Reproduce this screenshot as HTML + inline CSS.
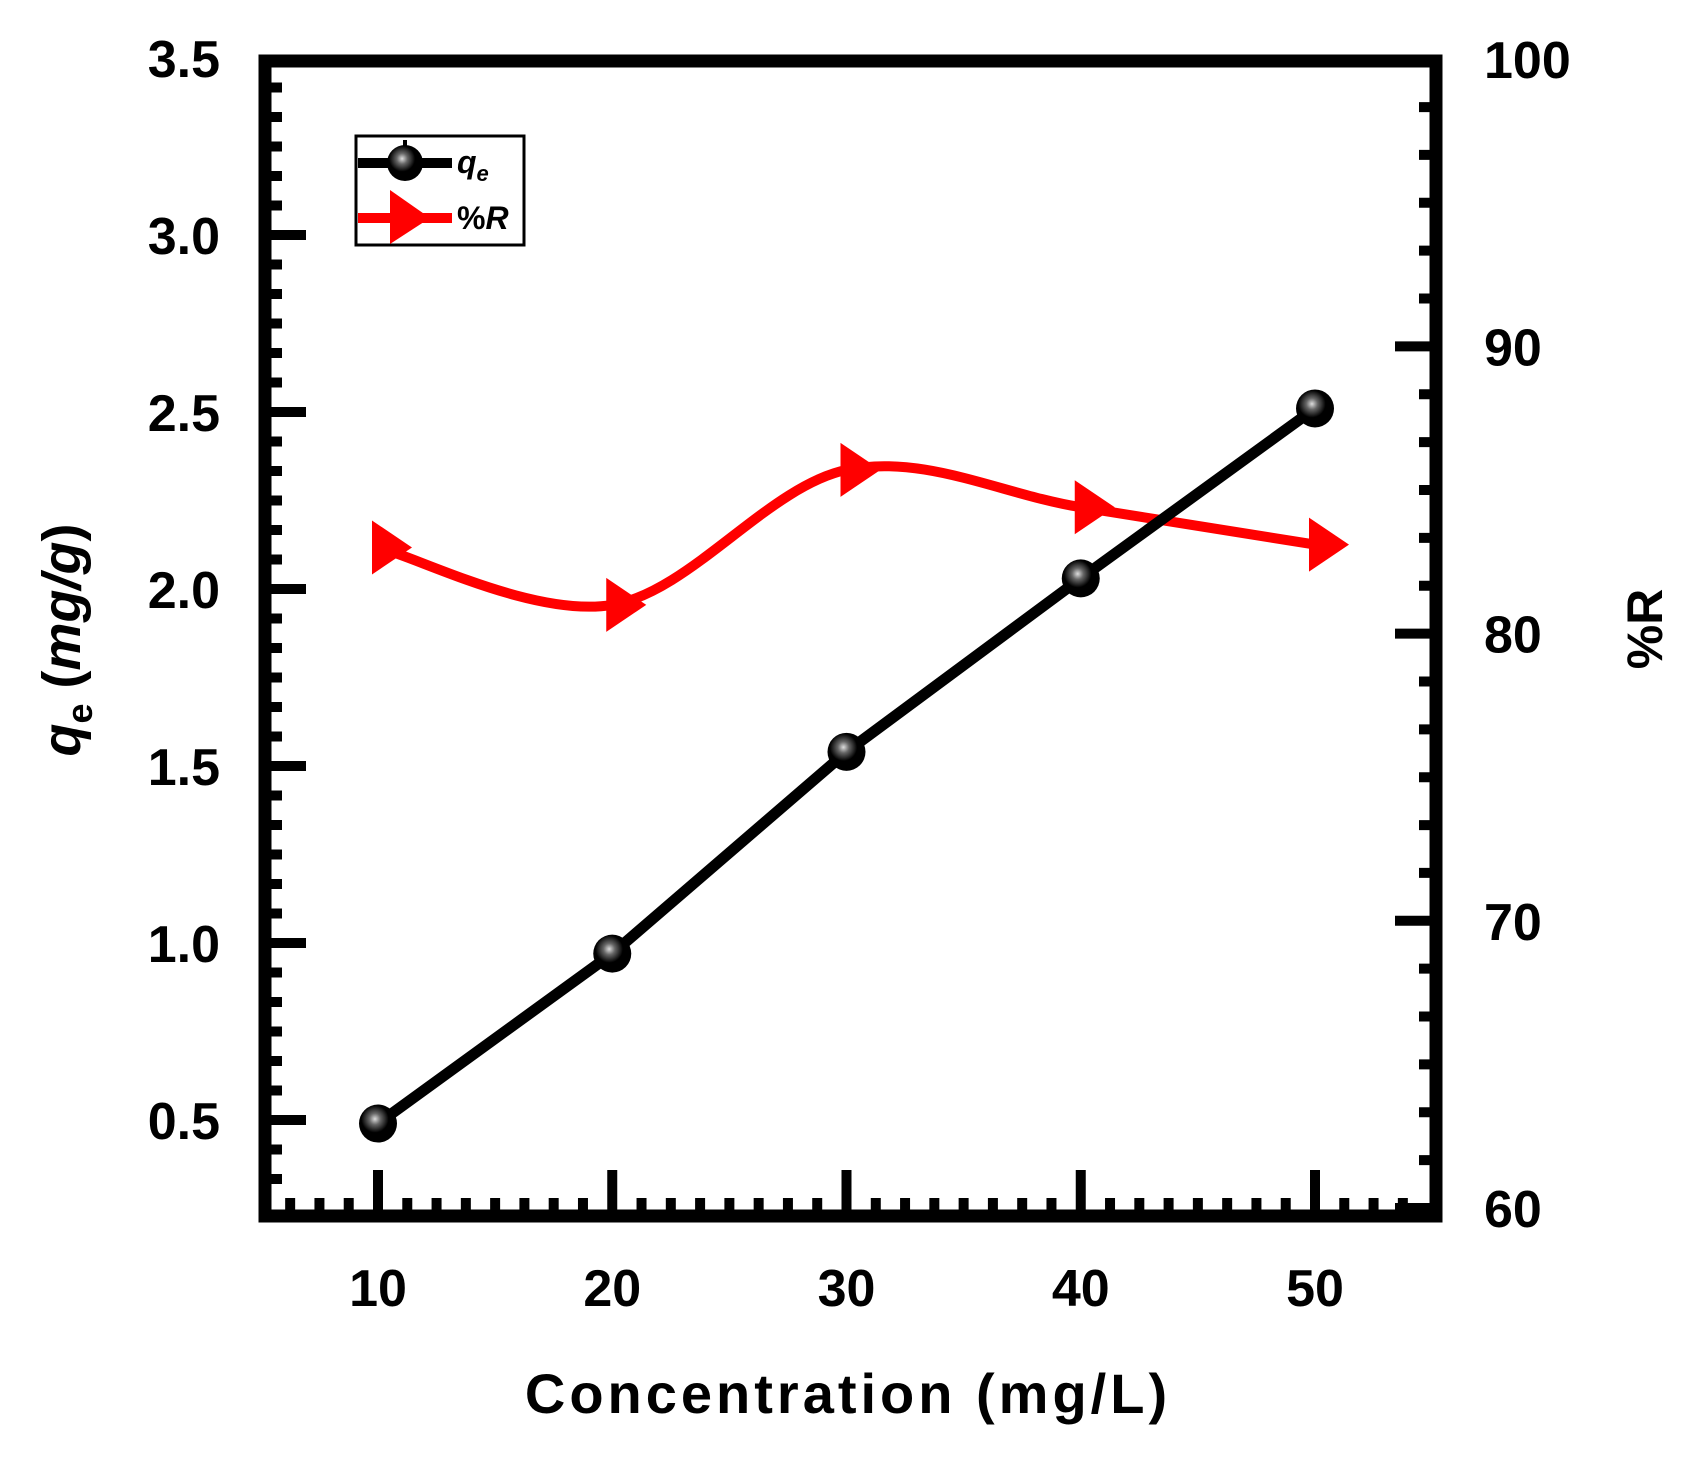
<!DOCTYPE html>
<html><head><meta charset="utf-8"><style>
html,body{margin:0;padding:0;background:#fff;}
svg{display:block;font-family:"Liberation Sans",Arial,sans-serif;}
</style></head><body>
<svg id="chart" width="1691" height="1470" viewBox="0 0 1691 1470">
<defs>
<radialGradient id="ball" cx="0.42" cy="0.38" r="0.6">
<stop offset="0" stop-color="#ddd"/><stop offset="0.25" stop-color="#666"/><stop offset="0.6" stop-color="#000"/><stop offset="1" stop-color="#000"/>
</radialGradient>
</defs>
<g id="ticks"></g>
<g id="series"></g>
<rect x="265" y="61" width="1171" height="1155" fill="none" stroke="#000" stroke-width="13"/>
<g id="labels" font-weight="bold" font-size="52" fill="#000"></g>
<text x="848" y="1413" font-size="56" font-weight="bold" text-anchor="middle" letter-spacing="4">Concentration (mg/L)</text>
<text transform="translate(80,640) rotate(-90)" font-size="54" font-weight="bold" text-anchor="middle"><tspan font-style="italic">q</tspan><tspan font-size="36" dy="12">e</tspan><tspan dy="-12"> (</tspan><tspan font-style="italic">mg/g</tspan>)</text>
<text transform="translate(1662,629) rotate(-90)" font-size="50" font-weight="bold" text-anchor="middle">%R</text>
<g>
<rect x="356" y="136" width="168" height="109" fill="#fff" stroke="#000" stroke-width="3"/>
<line x1="358" y1="163" x2="452" y2="163" stroke="#000" stroke-width="10"/>
<line x1="405" y1="140" x2="405" y2="150" stroke="#000" stroke-width="4"/>
<circle cx="405" cy="163" r="18" fill="url(#ball)"/>
<text x="457" y="173" font-size="32" font-weight="bold" font-style="italic" fill="#000">q<tspan font-size="22" dy="8">e</tspan></text>
<line x1="358" y1="218" x2="452" y2="218" stroke="#f00" stroke-width="10"/>
<polygon points="390,190 390,244 430,218" fill="#f00"/>
<text x="457" y="229" font-size="32" font-weight="bold" fill="#000">%<tspan font-style="italic">R</tspan></text>
</g>
</svg>
<script>
const categories=[10,20,30,40,50];
const qeValues=[0.49,0.97,1.54,2.03,2.51];
const removalValues=[83.0,81.0,85.7,84.4,83.1];
const xTicks=[10,20,30,40,50];
const yLeftTicks=["0.5","1.0","1.5","2.0","2.5","3.0","3.5"];
const yRightTicks=["60","70","80","90","100"];

const NS="http://www.w3.org/2000/svg";
function X(v){return 378+(v-10)*23.425;}
function YL(v){return 1120-(v-0.5)*354;}
function YR(v){return 1208-(v-60)*28.72;}
function mk(tag,attrs,parent){const e=document.createElementNS(NS,tag);for(const k in attrs)e.setAttribute(k,attrs[k]);parent.appendChild(e);return e;}
const tk=document.getElementById('ticks'),lb=document.getElementById('labels'),sr=document.getElementById('series');
for(let v=5;v<=55.01;v+=1.25){const x=X(v);if(x<275||x>1428)continue;const major=Math.abs(v-Math.round(v/10)*10)<0.01&&xTicks.includes(Math.round(v));
const t=mk('line',{x1:x,y1:1216,x2:x,y2:major?1170:1198,stroke:'#000','stroke-width':10},tk);

}
xTicks.forEach(v=>{const t=mk('text',{x:X(v),y:1306,'text-anchor':'middle'},lb);t.textContent=v;

});
for(let v=0.5-4/12;v<=3.5;v+=0.5/6){const y=YL(v);if(y<70||y>1208)continue;const major=Math.abs(v*2-Math.round(v*2))<0.01;
const t=mk('line',{x1:265,y1:y,x2:major?306:282,y2:y,stroke:'#000','stroke-width':10},tk);

}
yLeftTicks.forEach(s=>{const t=mk('text',{x:220,y:YL(+s)+19,'text-anchor':'end'},lb);t.textContent=s;

});
for(let v=60;v<=100;v+=10/6){const y=YR(v);if(y<70||y>1208)continue;const major=Math.abs(v/10-Math.round(v/10))<0.01;
const t=mk('line',{x1:1436,y1:y,x2:major?1395:1419,y2:y,stroke:'#000','stroke-width':10},tk);

}
yRightTicks.forEach(s=>{const t=mk('text',{x:1484,y:YR(+s)+19,'text-anchor':'start'},lb);t.textContent=s;

});
const rp=categories.map((c,i)=>[X(c),YR(removalValues[i])]);
let d='M'+rp[0][0]+','+rp[0][1];
for(let i=0;i<rp.length-1;i++){const p0=rp[Math.max(i-1,0)],p1=rp[i],p2=rp[i+1],p3=rp[Math.min(i+2,rp.length-1)];
d+=' C'+(p1[0]+(p2[0]-p0[0])/6)+','+(p1[1]+(p2[1]-p0[1])/6)+' '+(p2[0]-(p3[0]-p1[0])/6)+','+(p2[1]-(p3[1]-p1[1])/6)+' '+p2[0]+','+p2[1];}
const rl=mk('path',{d:d,fill:'none',stroke:'#f00','stroke-width':10},sr);


const ql=mk('polyline',{points:categories.map((c,i)=>X(c)+','+YL(qeValues[i])).join(' '),fill:'none',stroke:'#000','stroke-width':11,'stroke-linejoin':'round'},sr);


categories.forEach((c,i)=>{const x=X(c),y=YR(removalValues[i]);
const m=mk('polygon',{points:(x-6)+','+(y-27)+' '+(x-6)+','+(y+27)+' '+(x+34)+','+y,fill:'#f00'},sr);

});
categories.forEach((c,i)=>{const m=mk('circle',{cx:X(c),cy:YL(qeValues[i]),r:19,fill:'url(#ball)'},sr);

});
</script>
</body></html>
